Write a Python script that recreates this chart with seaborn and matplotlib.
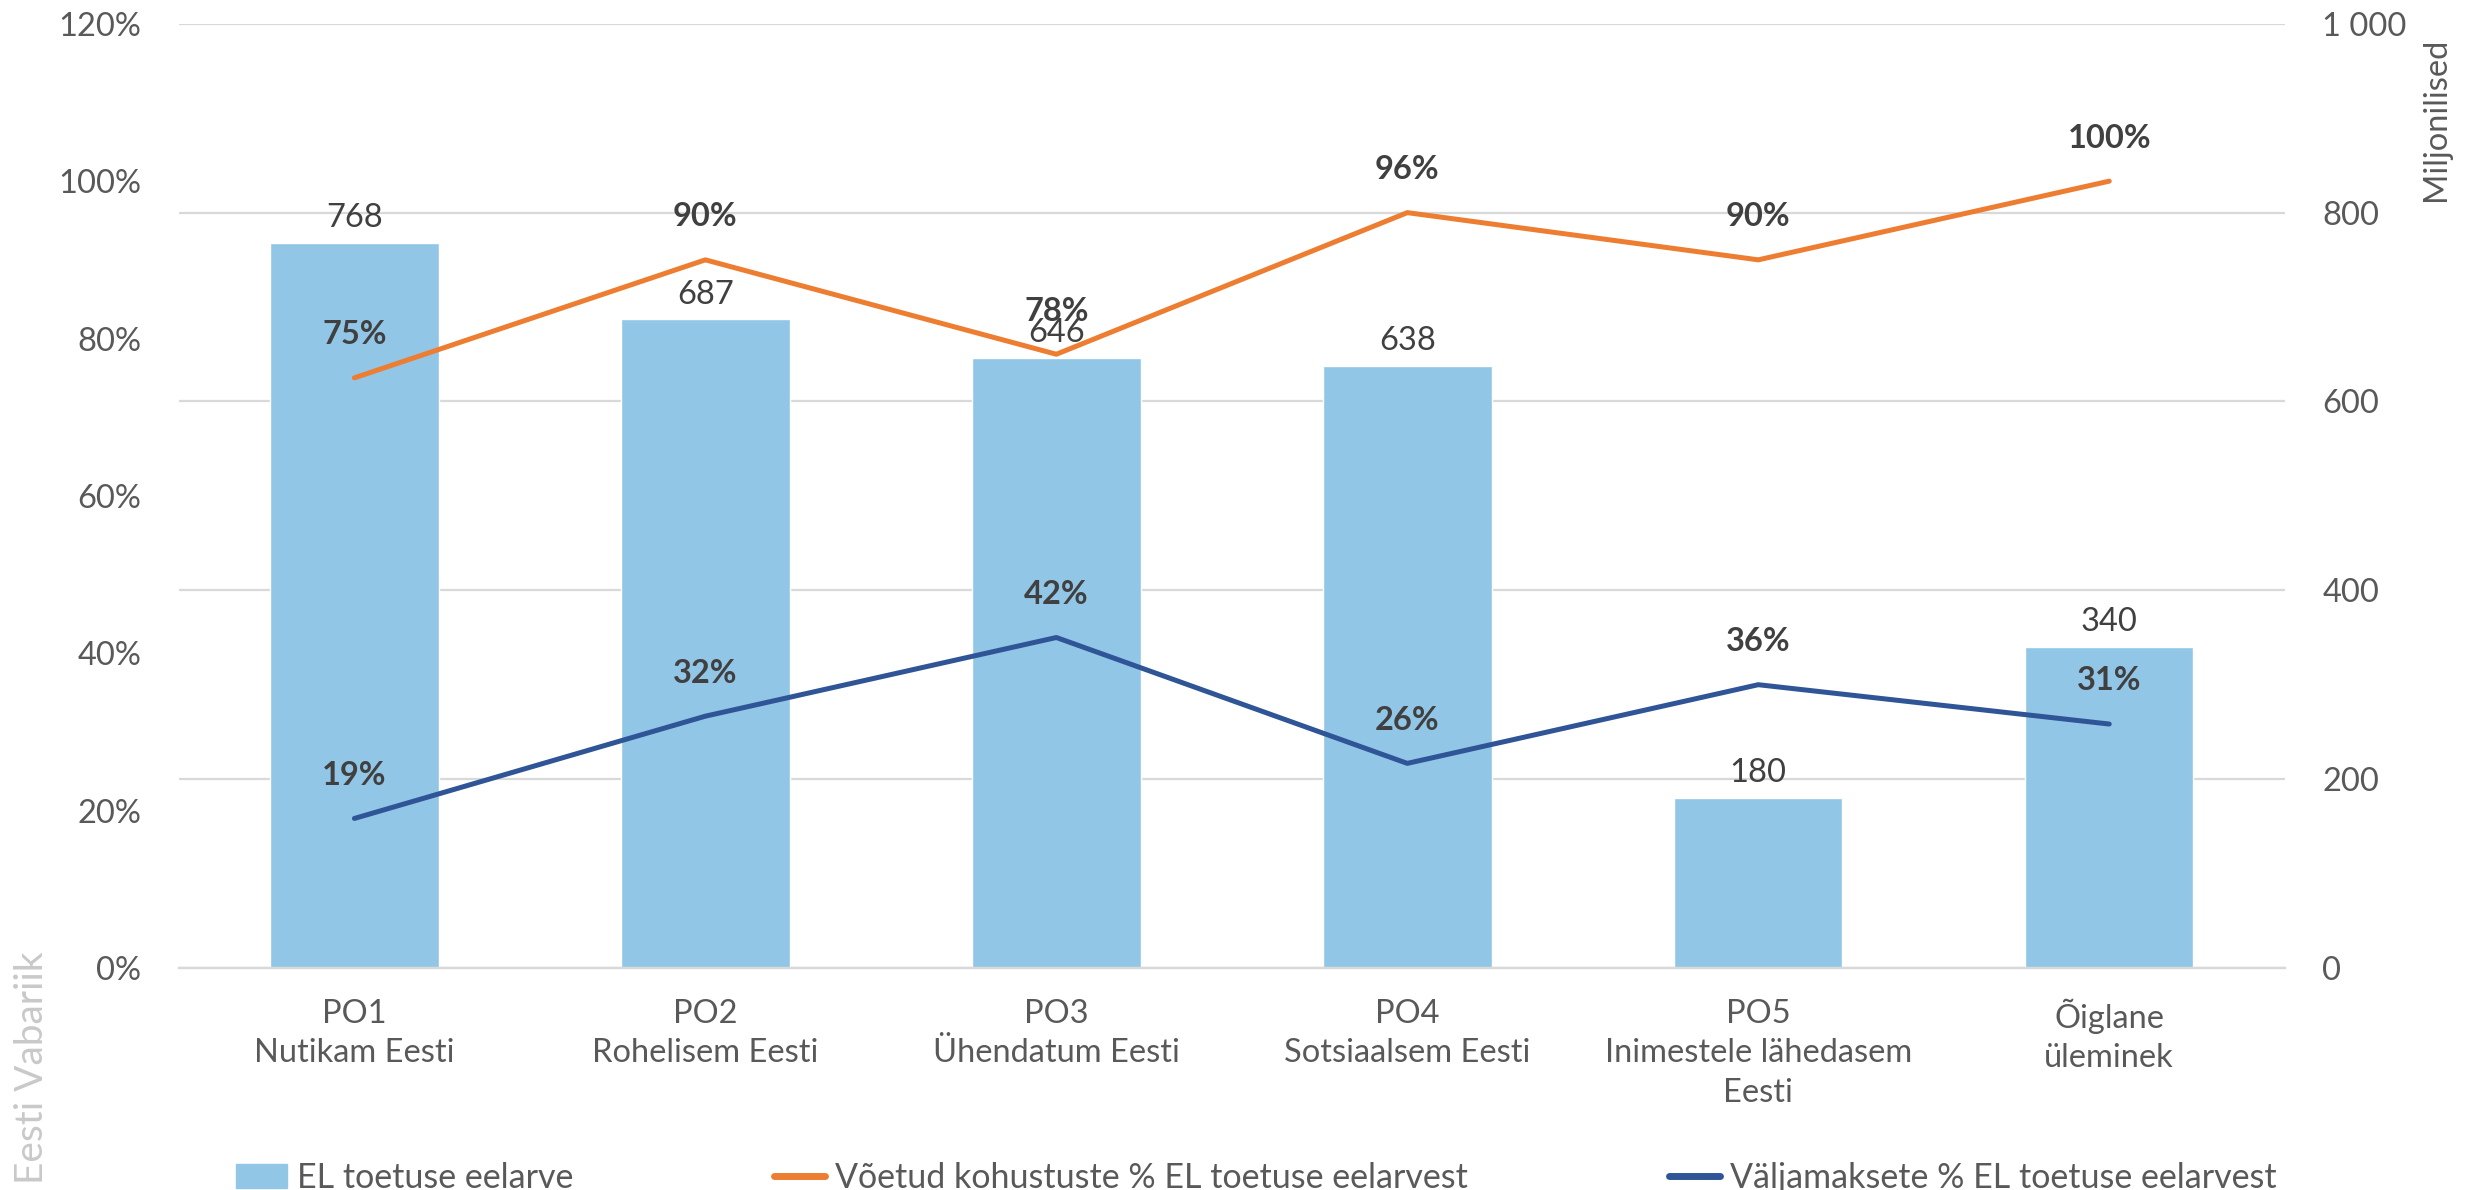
import numpy as np
import matplotlib.pyplot as plt
import seaborn as sns
from matplotlib.patches import Patch
from matplotlib.lines import Line2D

categories = ["PO1\nNutikam Eesti", "PO2\nRohelisem Eesti", "PO3\nÜhendatum Eesti",
              "PO4\nSotsiaalsem Eesti", "PO5\nInimestele lähedasem\nEesti", "Õiglane\nüleminek"]
budget = [768, 687, 646, 638, 180, 340]
commitments = [75, 90, 78, 96, 90, 100]
payments = [19, 32, 42, 26, 36, 31]
series_names = ["EL toetuse eelarve", "Võetud kohustuste % EL toetuse eelarvest",
                "Väljamaksete % EL toetuse eelarvest"]

bar_color = '#92C6E7'
orange = '#ED7D31'
blue = '#2F5597'
tick_color = '#595959'
label_color = '#404040'

sns.set_theme(style="white")
plt.rcParams['font.family'] = ['Lato', 'DejaVu Sans']

fig = plt.figure(figsize=(24.78, 11.9), dpi=100)
ax = fig.add_axes([0.0722, 0.1866, 0.922 - 0.0722, 0.980 - 0.1866])

# bars (right axis scale)
sns.barplot(x=categories, y=budget, color=bar_color, saturation=1, width=0.48, ax=ax)
ax.bar_label(ax.containers[0], padding=7, fontsize=23.5, color=label_color)

# lines (left axis scale)
ax2 = ax.twinx()
xpos = np.arange(len(categories))
sns.lineplot(x=xpos, y=commitments, ax=ax2, color=orange, lw=3.6)
sns.lineplot(x=xpos, y=payments, ax=ax2, color=blue, lw=3.6)
for xs, v in zip(xpos, commitments):
    ax2.annotate(f"{v}%", (xs, v), xytext=(0, 31), textcoords='offset points',
                 ha='center', va='center', fontsize=23.5, fontweight='bold', color=label_color)
for xs, v in zip(xpos, payments):
    ax2.annotate(f"{v}%", (xs, v), xytext=(0, 31), textcoords='offset points',
                 ha='center', va='center', fontsize=23.5, fontweight='bold', color=label_color)

# axes setup
ax.yaxis.tick_right()
ax.set_ylim(0, 1000)
ax.set_yticks(range(0, 1001, 200))
ax.set_yticklabels(["0", "200", "400", "600", "800", "1 000"])
ax.grid(axis='y', color='#d9d9d9', lw=1.6)
ax.set_axisbelow(True)
ax.set_xlim(-0.5, len(categories) - 0.5)
ax.set_xlabel("")
ax.set_ylabel("")
ax.tick_params(axis='y', length=0, pad=27, labelsize=23.5, labelcolor=tick_color)
ax.tick_params(axis='x', length=0, pad=22, labelsize=23.5, labelcolor=tick_color)
for lbl in ax.get_xticklabels():
    lbl.set_linespacing(1.4)

ax2.yaxis.tick_left()
ax2.set_ylim(0, 120)
ax2.set_yticks(range(0, 121, 20))
ax2.set_yticklabels([f"{t}%" for t in range(0, 121, 20)])
ax2.tick_params(axis='y', length=0, pad=27, labelsize=23.5, labelcolor=tick_color)
ax2.set_xlim(-0.5, len(categories) - 0.5)
ax2.set_ylabel("")

for a in (ax, ax2):
    for s in ['top', 'left', 'right']:
        a.spines[s].set_visible(False)
    a.spines['bottom'].set_color('#d9d9d9')
    a.spines['bottom'].set_linewidth(1.6)

fig.text(2436 / 2478, 1 - 119 / 1190, "Miljonilised", rotation=90, ha='center', va='center',
         fontsize=23.5, color=tick_color)
fig.text(0.0128, 1 - 1068 / 1190, "Eesti Vabariik", rotation=90, ha='center', va='center',
         fontsize=28, color='#c9c9c9')

handles = [Patch(color=bar_color), Line2D([0], [0], color=orange, lw=5),
           Line2D([0], [0], color=blue, lw=5)]
leg = fig.legend(handles, series_names, loc='center', bbox_to_anchor=(0.507, 0.01), ncol=3,
                 frameon=False, columnspacing=5.9, handlelength=1.5, handletextpad=0.3,
                 fontsize=24.5)
for t in leg.get_texts():
    t.set_color(tick_color)

fig.savefig("out.png", dpi=100)
